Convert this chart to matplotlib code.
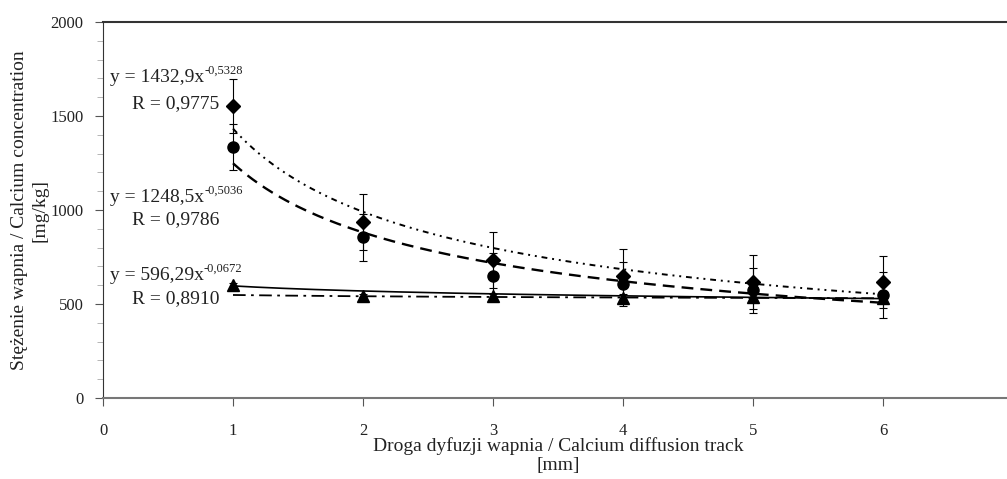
import matplotlib
matplotlib.use('Agg')
import matplotlib.pyplot as plt
import numpy as np

plt.rcParams['font.family'] = ['Liberation Serif', 'DejaVu Serif']

x = [1, 2, 3, 4, 5, 6]
diamond = [1553, 936, 735, 649, 617, 617]
diamond_err = [145, 150, 150, 145, 144, 140]
circle = [1335, 856, 649, 606, 574, 548]
circle_err = [120, 125, 120, 118, 120, 122]
triangle = [600, 545, 540, 532, 537, 532]
triangle_err = [10, 10, 15, 20, 20, 20]

# Power trend lines y = a * x^b
fit_diamond = (1432.9, -0.5328)
fit_circle = (1248.5, -0.5036)
fit_triangle = (596.29, -0.0672)
fit_extra = (548.0, -0.018)

equations = [('y = 1432,9x', '-0,5328', 'R = 0,9775', 1707, 1564),
             ('y = 1248,5x', '-0,5036', 'R = 0,9786', 1069, 947),
             ('y = 596,29x', '-0,0672', 'R = 0,8910', 654, 527)]

fig = plt.figure(figsize=(10.07, 4.79), dpi=100)
W, H = 1007, 479
ax = fig.add_axes([103/W, 1-398/H, 910/W, 376/H])

xf = np.linspace(1, 6, 200)
def pw(p):
    return p[0]*xf**p[1]

ax.plot(xf, pw(fit_diamond), color='k', lw=1.4, dashes=(3, 2.5, 1, 2.5, 1, 2.5))
ax.plot(xf, pw(fit_circle), color='k', lw=1.7, dashes=(5, 3))
ax.plot(xf, pw(fit_triangle), color='k', lw=1.2)
ax.plot(xf, pw(fit_extra), color='k', lw=1.3, dashes=(7, 3, 1.5, 3))

ek = dict(ecolor='k', elinewidth=0.8, capsize=3, capthick=0.8, linestyle='none', color='k')
ax.errorbar(x, diamond, yerr=diamond_err, marker='D', ms=7, **ek)
ax.errorbar(x, circle, yerr=circle_err, marker='o', ms=8, **ek)
ax.errorbar(x, triangle, yerr=triangle_err, marker='^', ms=8, **ek)

tc = '#222222'
for base, exp, rtxt, ye, yr in equations:
    t = ax.text(0.055, ye, base, fontsize=14, va='center', color=tc)
    ax.annotate(exp, xy=(1, 0.5), xycoords=t, fontsize=9, va='bottom', ha='left', color=tc)
    ax.text(0.225, yr, rtxt, fontsize=14, va='center', color=tc)

ax.set_xlim(0, 7)
ax.set_ylim(0, 2000)
ax.set_xticks(range(0, 8))
ax.set_yticks([0, 500, 1000, 1500, 2000])
ax.set_yticks(np.arange(0, 2001, 100), minor=True)
ax.tick_params(axis='both', labelsize=12, labelcolor=tc, color='#555555', width=0.8)
ax.tick_params(axis='x', direction='out', length=6, pad=12)
ax.tick_params(axis='y', which='major', direction='out', length=6, pad=8)
ax.tick_params(axis='y', which='minor', direction='out', length=4, color='#aaaaaa')
ax.spines['right'].set_visible(False)
ax.spines['top'].set_color('#333333')
ax.spines['top'].set_linewidth(1.5)
ax.spines['left'].set_color('#333333')
ax.spines['bottom'].set_color('#777777')
ax.spines['bottom'].set_linewidth(1.5)

ax.set_xlabel('Droga dyfuzji wapnia / Calcium diffusion track\n[mm]', fontsize=14, color=tc,
              linespacing=1.1, labelpad=-1)
ax.set_ylabel('Stężenie wapnia / Calcium concentration\n[mg/kg]', fontsize=14, color=tc,
              linespacing=1.3, labelpad=1)

fig.savefig('out.png', dpi=100)
